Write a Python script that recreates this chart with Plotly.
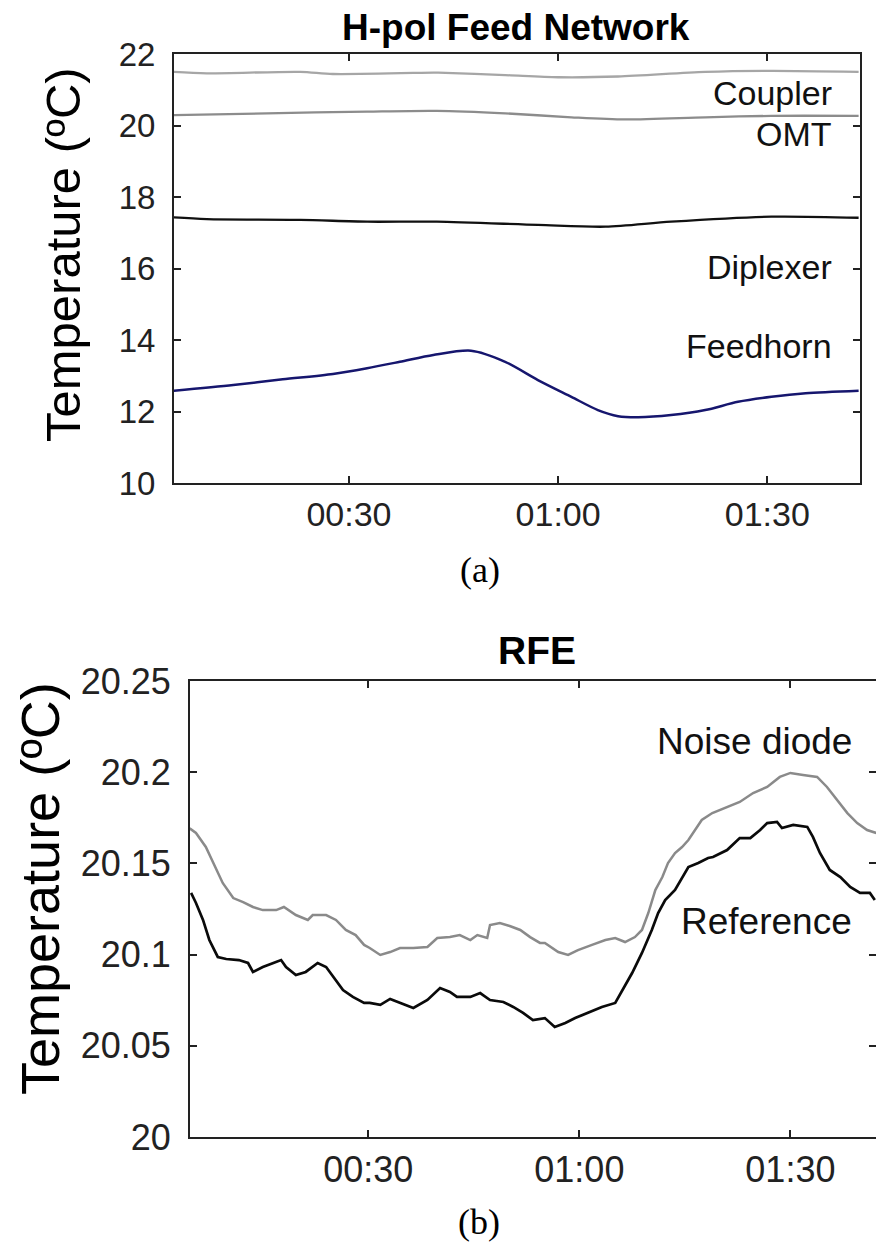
import plotly.graph_objects as go

W, H = 876, 1245

# ---------------- (a) H-pol feed network, minutes since 00:00 ----------------
coupler_t = [4.7, 9.6, 23.0, 27.7, 42.1, 42.8, 52.4, 60.0, 68.6, 81.1, 90.6, 103.1]
coupler_v = [21.50, 21.46, 21.50, 21.44, 21.48, 21.48, 21.41, 21.35, 21.37, 21.50, 21.53, 21.50]

omt_t = [4.7, 18.2, 32.6, 42.6, 52.4, 61.9, 69.6, 81.1, 90.6, 103.1]
omt_v = [20.29, 20.34, 20.39, 20.41, 20.34, 20.23, 20.17, 20.23, 20.27, 20.27]

diplexer_t = [4.7, 9.6, 23.0, 32.6, 42.6, 57.1, 66.8, 76.2, 90.6, 103.1]
diplexer_v = [17.43, 17.38, 17.36, 17.31, 17.31, 17.22, 17.17, 17.31, 17.45, 17.42]

feedhorn_t = [4.7, 13.4, 20.5, 27.7, 32.6, 37.3, 42.1, 47.5, 52.4, 57.1,
              61.9, 65.7, 68.6, 71.5, 76.2, 81.1, 85.8, 90.6, 95.5, 103.1]
feedhorn_v = [12.58, 12.74, 12.90, 13.05, 13.21, 13.39, 13.58, 13.70, 13.39, 12.88,
              12.41, 12.04, 11.87, 11.84, 11.90, 12.04, 12.27, 12.41, 12.51, 12.58]

# ---------------- (b) RFE ----------------
noise_t = [4.6, 5.5, 6.9, 8.3, 9.3, 10.8, 12.2, 13.6, 15.0, 16.9, 18.0, 19.7, 21.4, 22.1,
           24.0, 25.4, 26.8, 28.2, 29.4, 30.2, 31.7, 33.1, 34.5, 36.4, 38.4, 39.8, 41.6,
           43.0, 44.5, 45.5, 46.9, 47.3, 48.7, 50.1, 51.6, 53.0, 54.4, 55.1, 57.0, 58.4,
           59.8, 61.8, 63.7, 65.1, 66.5, 67.9, 68.9, 69.8, 70.8, 71.8, 72.6, 73.6, 74.6,
           75.5, 76.5, 77.4, 78.9, 81.0, 82.8, 84.7, 86.7, 88.5, 90.0, 91.8, 93.8, 95.2,
           96.6, 98.1, 99.5, 100.9, 102.2]
noise_v = [20.1692, 20.1667, 20.1590, 20.1480, 20.1393, 20.1310, 20.1288, 20.1261, 20.1244,
           20.1244, 20.1261, 20.1217, 20.1190, 20.1217, 20.1217, 20.1190, 20.1135, 20.1107,
           20.1053, 20.1036, 20.0998, 20.1014, 20.1036, 20.1036, 20.1042, 20.1091, 20.1096,
           20.1107, 20.1080, 20.1107, 20.1091, 20.1162, 20.1173, 20.1157, 20.1135, 20.1096,
           20.1064, 20.1064, 20.1014, 20.0998, 20.1025, 20.1053, 20.1080, 20.1091, 20.1069,
           20.1096, 20.1135, 20.1228, 20.1354, 20.1425, 20.1502, 20.1557, 20.1590, 20.1628,
           20.1683, 20.1738, 20.1776, 20.1809, 20.1837, 20.1886, 20.1919, 20.1974, 20.1996,
           20.1985, 20.1974, 20.1919, 20.1848, 20.1776, 20.1721, 20.1683, 20.1667]

ref_t = [4.8, 5.5, 6.5, 7.4, 8.6, 9.8, 11.6, 12.9, 13.6, 15.0, 16.5, 17.6, 18.3, 19.7,
         21.1, 22.8, 24.0, 25.0, 26.4, 27.8, 29.4, 30.2, 31.7, 33.1, 34.5, 36.4, 38.4,
         40.2, 41.6, 42.6, 44.5, 45.9, 47.3, 49.2, 50.6, 52.0, 53.4, 55.1, 56.5, 58.0,
         59.4, 61.2, 63.2, 65.1, 66.1, 67.5, 68.9, 70.3, 71.2, 72.2, 73.6, 74.7, 75.5,
         76.9, 78.3, 79.0, 81.0, 82.8, 84.3, 85.7, 86.7, 88.1, 88.8, 90.4, 92.4, 93.2,
         94.2, 95.6, 97.1, 98.5, 99.9, 101.3, 102.0]
ref_v = [20.1338, 20.1283, 20.1190, 20.1080, 20.0987, 20.0976, 20.0970, 20.0954, 20.0905,
         20.0932, 20.0954, 20.0970, 20.0932, 20.0888, 20.0905, 20.0954, 20.0932, 20.0877,
         20.0806, 20.0768, 20.0735, 20.0735, 20.0724, 20.0757, 20.0735, 20.0707, 20.0751,
         20.0817, 20.0795, 20.0768, 20.0768, 20.0789, 20.0751, 20.0740, 20.0713, 20.0680,
         20.0641, 20.0652, 20.0603, 20.0625, 20.0652, 20.0680, 20.0713, 20.0735, 20.0806,
         20.0899, 20.1009, 20.1135, 20.1228, 20.1299, 20.1354, 20.1425, 20.1480, 20.1502,
         20.1530, 20.1535, 20.1573, 20.1639, 20.1639, 20.1683, 20.1721, 20.1727, 20.1694,
         20.1711, 20.1700, 20.1645, 20.1557, 20.1464, 20.1425, 20.1371, 20.1338, 20.1338,
         20.1299]

time_tickvals = [30, 60, 90]
time_ticktext = ["00:30", "01:00", "01:30"]
top_yticks = [10, 12, 14, 16, 18, 20, 22]
bot_yticks = [20, 20.05, 20.1, 20.15, 20.2, 20.25]
bot_yticktext = ["20", "20.05", "20.1", "20.15", "20.2", "20.25"]

INK = "#222222"
SANS = "Liberation Sans, Arial, Helvetica, sans-serif"
SERIF = "Liberation Serif, Times New Roman, serif"


def px_x(x):
    return x / W


def px_y(y):
    return 1 - y / H


fig = go.Figure()

# top panel traces: slowly varying sensors, drawn as smooth curves
smooth = dict(shape="spline", smoothing=0.8)
fig.add_trace(go.Scatter(x=coupler_t, y=coupler_v, mode="lines",
                         line=dict(color="#a6a6a6", width=2.3, **smooth), xaxis="x", yaxis="y"))
fig.add_trace(go.Scatter(x=omt_t, y=omt_v, mode="lines",
                         line=dict(color="#8c8c8c", width=2.3, **smooth), xaxis="x", yaxis="y"))
fig.add_trace(go.Scatter(x=diplexer_t, y=diplexer_v, mode="lines",
                         line=dict(color="#111111", width=2.3, **smooth), xaxis="x", yaxis="y"))
fig.add_trace(go.Scatter(x=feedhorn_t, y=feedhorn_v, mode="lines",
                         line=dict(color="#16166e", width=2.5, **smooth), xaxis="x", yaxis="y"))

# bottom panel traces
fig.add_trace(go.Scatter(x=noise_t, y=noise_v, mode="lines",
                         line=dict(color="#8a8a8a", width=2.5), xaxis="x2", yaxis="y2"))
fig.add_trace(go.Scatter(x=ref_t, y=ref_v, mode="lines",
                         line=dict(color="#0a0a0a", width=2.7), xaxis="x2", yaxis="y2"))

# placeholder trace so the right-hand tick axis of the RFE panel is rendered
fig.add_trace(go.Scatter(x=[None], y=[None], xaxis="x2", yaxis="y3",
                         showlegend=False, hoverinfo="skip"))

axis_common = dict(showline=True, linecolor=INK, linewidth=2, ticks="inside",
                   ticklen=7, tickwidth=1.6, tickcolor=INK, showgrid=False,
                   zeroline=False, color=INK, automargin=False)

fig.update_layout(
    width=W, height=H,
    margin=dict(l=0, r=0, t=0, b=0, pad=0, autoexpand=False),
    paper_bgcolor="white", plot_bgcolor="white",
    showlegend=False,
    xaxis=dict(domain=[px_x(174), px_x(860)], anchor="y", range=[4.9, 103.3],
               tickvals=time_tickvals, ticktext=time_ticktext, mirror="ticks",
               tickfont=dict(family=SANS, size=34, color=INK), ticklabelstandoff=0,
               **axis_common),
    yaxis=dict(domain=[px_y(483), px_y(54)], anchor="x", range=[10, 22],
               tickvals=top_yticks, mirror="ticks",
               tickfont=dict(family=SANS, size=33, color=INK), ticklabelstandoff=10,
               **axis_common),
    xaxis2=dict(domain=[px_x(190), 1.0], anchor="y2", range=[4.65, 102.17],
                tickvals=time_tickvals, ticktext=time_ticktext, mirror="ticks",
                tickfont=dict(family=SANS, size=36, color=INK), ticklabelstandoff=0,
                **axis_common),
    yaxis2=dict(domain=[px_y(1137), px_y(681)], anchor="x2", range=[20, 20.25],
                tickvals=bot_yticks, ticktext=bot_yticktext, mirror=False,
                tickfont=dict(family=SANS, size=36, color=INK), ticklabelstandoff=10,
                **axis_common),
    # right-hand ticks of the RFE panel (its frame runs past the page edge)
    yaxis3=dict(overlaying="y2", anchor="x2", side="right", range=[20, 20.25],
                tickvals=bot_yticks, showticklabels=False, showline=False,
                ticks="inside", ticklen=7, tickwidth=1.6, tickcolor=INK,
                showgrid=False, zeroline=False, automargin=False),
)

annotations = [
    # panel titles
    dict(text="<b>H-pol Feed Network</b>", x=px_x(516), y=px_y(27), xref="paper", yref="paper",
         showarrow=False, xanchor="center", yanchor="middle",
         font=dict(family=SANS, size=37, color="#000000")),
    dict(text="<b>RFE</b>", x=px_x(537), y=px_y(650), xref="paper", yref="paper",
         showarrow=False, xanchor="center", yanchor="middle",
         font=dict(family=SANS, size=39, color="#000000")),
    # y-axis titles
    dict(text="Temperature (ºC)", x=px_x(63), y=px_y(255), xref="paper", yref="paper",
         showarrow=False, textangle=-90, xanchor="center", yanchor="middle",
         font=dict(family=SANS, size=49, color="#000000")),
    dict(text="Temperature (ºC)", x=px_x(40), y=px_y(889), xref="paper", yref="paper",
         showarrow=False, textangle=-90, xanchor="center", yanchor="middle",
         font=dict(family=SANS, size=54, color="#000000")),
    # subfigure captions
    dict(text="(a)", x=px_x(480), y=px_y(570), xref="paper", yref="paper",
         showarrow=False, xanchor="center", yanchor="middle",
         font=dict(family=SERIF, size=36, color="#000000")),
    dict(text="(b)", x=px_x(479), y=px_y(1222), xref="paper", yref="paper",
         showarrow=False, xanchor="center", yanchor="middle",
         font=dict(family=SERIF, size=36, color="#000000")),
]

# series labels in data coordinates
series_labels_top = [("Coupler", 20.91), ("OMT", 19.76), ("Diplexer", 16.04), ("Feedhorn", 13.83)]
for name, yv in series_labels_top:
    annotations.append(dict(text=name, x=99.6, y=yv, xref="x", yref="y", showarrow=False,
                            xanchor="right", yanchor="middle",
                            font=dict(family=SANS, size=34, color="#111111")))

series_labels_bot = [("Noise diode", 20.2166), ("Reference", 20.1184)]
for name, yv in series_labels_bot:
    annotations.append(dict(text=name, x=99.0, y=yv, xref="x2", yref="y2", showarrow=False,
                            xanchor="right", yanchor="middle",
                            font=dict(family=SANS, size=37, color="#111111")))

fig.update_layout(annotations=annotations)

fig.write_html("out.html")
